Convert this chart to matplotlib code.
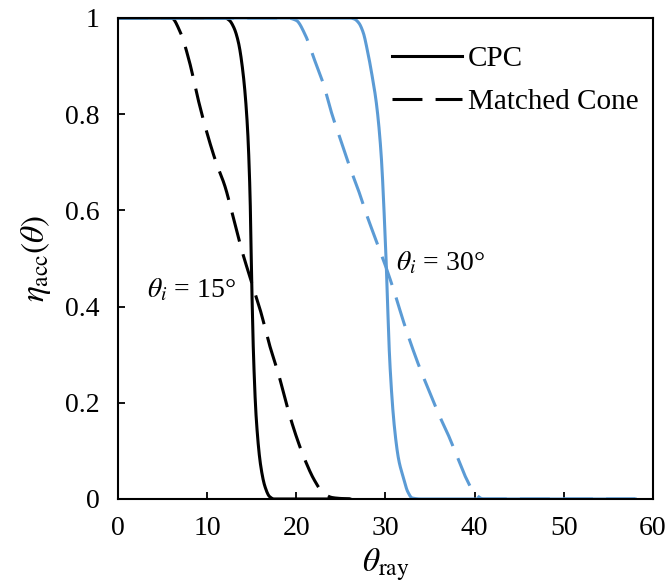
import numpy as np
import matplotlib
matplotlib.use("Agg")
import matplotlib.pyplot as plt
from matplotlib.ticker import FuncFormatter

plt.rcParams['font.family'] = ['Liberation Serif', 'DejaVu Serif']
plt.rcParams['mathtext.fontset'] = 'stix'

# acceptance vs ray angle, design angle 15 deg
cpc15_theta = [0, 12, 12.5, 13, 13.5, 14, 14.5, 14.8, 15, 15.2, 15.5, 16, 16.5, 17, 17.5, 26]
cpc15_eta = [1, 1, 0.995, 0.98, 0.95, 0.89, 0.78, 0.64, 0.45, 0.3, 0.17, 0.07, 0.025, 0.005, 0, 0]

cone15_theta = [0, 6, 7, 8, 9, 10, 11, 12, 13, 14, 15, 16, 17, 18, 19, 20, 21, 22, 23, 24, 25, 26]
cone15_eta = [1, 1, 0.97, 0.91, 0.83, 0.76, 0.7, 0.65, 0.58, 0.51, 0.45, 0.39, 0.32, 0.26, 0.19, 0.13,
              0.08, 0.04, 0.013, 0.003, 0.001, 0]

# design angle 30 deg
cpc30_theta = [0, 26, 26.5, 27, 27.5, 28, 28.5, 29, 29.5, 30, 30.5, 31, 31.5, 32, 32.5, 33, 34, 58]
cpc30_eta = [1, 1, 0.998, 0.99, 0.97, 0.93, 0.88, 0.82, 0.72, 0.53, 0.28, 0.15, 0.08, 0.045, 0.015,
             0.002, 0, 0]

cone30_theta = [0, 19, 20, 21, 22, 23, 24, 25, 26, 27, 28, 29, 30, 31, 32, 33, 34, 35, 36, 37, 38, 39,
                40, 41, 58]
cone30_eta = [1, 1, 0.995, 0.965, 0.915, 0.865, 0.8, 0.745, 0.69, 0.64, 0.585, 0.535, 0.485, 0.43,
              0.37, 0.315, 0.265, 0.22, 0.175, 0.135, 0.09, 0.045, 0.012, 0, 0]

xticks = [0, 10, 20, 30, 40, 50, 60]
yticks = [0, 0.2, 0.4, 0.6, 0.8, 1]


def smooth(x, y, n=20):
    # monotone cubic (Fritsch-Carlson) through the points, like a smoothed line
    x = np.asarray(x, float)
    y = np.asarray(y, float)
    h = np.diff(x)
    d = np.diff(y) / h
    m = np.zeros_like(y)
    m[0], m[-1] = d[0], d[-1]
    for k in range(1, len(x) - 1):
        if d[k - 1] * d[k] > 0:
            w1 = 2 * h[k] + h[k - 1]
            w2 = h[k] + 2 * h[k - 1]
            m[k] = (w1 + w2) / (w1 / d[k - 1] + w2 / d[k])
    xs, ys = [], []
    for k in range(len(x) - 1):
        t = np.linspace(0, 1, n, endpoint=False)
        h00 = 2 * t**3 - 3 * t**2 + 1
        h10 = t**3 - 2 * t**2 + t
        h01 = -2 * t**3 + 3 * t**2
        h11 = t**3 - t**2
        xs.append(x[k] + t * h[k])
        ys.append(h00 * y[k] + h10 * h[k] * m[k] + h01 * y[k + 1] + h11 * h[k] * m[k + 1])
    xs.append([x[-1]])
    ys.append([y[-1]])
    return np.concatenate(xs), np.concatenate(ys)


blue = '#5B9BD5'
lw = 2.2
dash = (0, (9.8, 4.3))

fig = plt.figure(figsize=(6.68, 5.88), dpi=100)
ax = fig.add_axes([0.1766, 0.1514, 0.8009, 0.818])

ax.plot(*smooth(cpc15_theta, cpc15_eta), color='black', lw=lw, label='CPC')
ax.plot(*smooth(cone15_theta, cone15_eta), color='black', lw=lw, linestyle=dash, label='Matched Cone')
ax.plot(*smooth(cpc30_theta, cpc30_eta), color=blue, lw=lw)
ax.plot(*smooth(cone30_theta, cone30_eta), color=blue, lw=lw, linestyle=dash)

ax.set_xlim(0, 60)
ax.set_ylim(0, 1)
ax.set_xticks(xticks)
ax.set_yticks(yticks)
ax.yaxis.set_major_formatter(FuncFormatter(lambda v, p: '%g' % v))
ax.tick_params(direction='in', length=5, width=1.3, labelsize=20,
               top=False, right=False)
ax.tick_params(axis='x', pad=12)
ax.tick_params(axis='y', pad=13)
for s in ax.spines.values():
    s.set_linewidth(1.5)

ax.set_xlabel(r'$\theta_{\rm ray}$', fontsize=24, labelpad=4)
ax.set_ylabel(r'$\eta_{\rm acc}(\theta)$', fontsize=24, labelpad=9)

ax.text(8.2, 0.435, r'$\theta_i$ = 15°', fontsize=20, va='center', ha='center')
ax.text(36.2, 0.49, r'$\theta_i$ = 30°', fontsize=20, va='center', ha='center')

ax.legend(loc='upper left', frameon=False, fontsize=21, handlelength=2.4,
          handletextpad=0.2, labelspacing=0.55, borderpad=0, borderaxespad=0,
          bbox_to_anchor=(0.512, 0.942))

fig.savefig('out.png', dpi=100)
